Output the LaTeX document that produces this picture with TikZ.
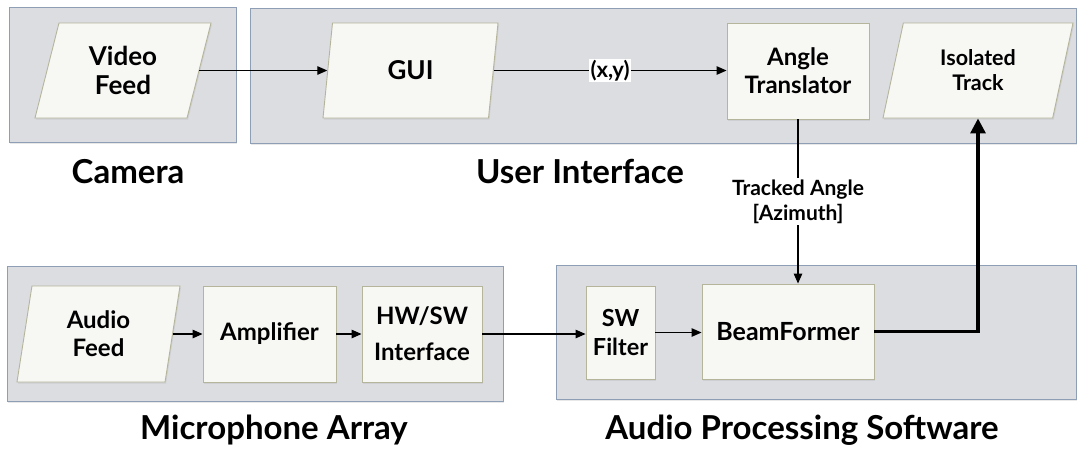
\documentclass[tikz,border=0pt]{standalone}
\usepackage{fontspec}
\setmainfont{Lato}
\usetikzlibrary{arrows.meta,shapes.geometric,shadows,calc}
\definecolor{grpfill}{HTML}{DCDDE1}
\definecolor{grpdraw}{HTML}{8E9FB5}
\definecolor{boxfill}{HTML}{F7F7F4}
\definecolor{boxdraw}{HTML}{B5B59B}
\begin{document}
\begin{tikzpicture}[x=1pt,y=-1pt,
  grp/.style={fill=grpfill,draw=grpdraw,line width=0.9pt,drop shadow={opacity=0.18,shadow xshift=1.2pt,shadow yshift=-1.8pt}},
  blk/.style={fill=boxfill,draw=boxdraw,line width=0.9pt,align=center,inner sep=0pt,drop shadow={opacity=0.15,shadow xshift=1pt,shadow yshift=-1.5pt}},
  proc/.style={blk,rectangle},
  io/.style 2 args={blk,trapezium,trapezium left angle=#1,trapezium right angle=#2,trapezium stretches body=true},
  fs/.style 2 args={font=\fontsize{#1}{#2}\selectfont\bfseries},
  arr/.style={line width=1.2pt,-{Triangle[length=10pt,width=8.5pt]}},
  heavy/.style={line width=3.2pt,-{Triangle[length=15pt,width=15pt]}},
  grplabel/.style={font=\fontsize{33}{38}\selectfont\bfseries,anchor=base},
  lbl/.style={fill=white,inner sep=1.5pt,align=center}
]
\useasboundingbox (0,0) rectangle (1078,451);
% groups
\path[grp] (9,7) rectangle (236,142);
\path[grp] (250,8) rectangle (1076,143);
\path[grp] (7,266) rectangle (503,401);
\path[grp] (556,265) rectangle (1076,399);
% group labels
\node[grplabel] (lcam) at (128,183) {Camera};
\node[grplabel] (lui) at (580,183) {User Interface};
\node[grplabel] (lmic) at (274,439) {Microphone Array};
\node[grplabel] (laps) at (802,439) {Audio Processing Software};
% blocks
\node[io={63.7}{116.3},fs={26}{29},minimum width=176pt,minimum height=95pt] (vf) at (123,70.5) {Video\\Feed};
\node[io={63.7}{116.3},fs={26}{29},minimum width=175pt,minimum height=95pt] (gui) at (410.5,70.5) {GUI};
\node[proc,fs={24}{28},minimum width=142pt,minimum height=96pt] (at) at (798,71) {Angle\\Translator};
\node[io={63.7}{116.3},fs={21.5}{25},minimum width=190pt,minimum height=95pt] (it) at (978,70.5) {Isolated\\Track};
\node[io={72}{108},fs={24}{28},minimum width=163pt,minimum height=96pt] (af) at (98.5,334) {Audio\\Feed};
\node[proc,fs={24}{28},minimum width=133pt,minimum height=96pt] (amp) at (269.5,334) {Amplifier};
\node[proc,fs={24}{36},minimum width=120pt,minimum height=96pt] (hw) at (422,334) {HW/SW\\Interface};
\node[proc,fs={23.5}{29},minimum width=69pt,minimum height=93pt] (swf) at (620.5,332.5) {SW\\Filter};
\node[proc,fs={25}{28},minimum width=172pt,minimum height=95pt] (bf) at (788,331.5) {BeamFormer};
% connectors
\draw[arr] (vf.right side) -- (gui.left side);
\draw[arr] (gui.right side) -- node[lbl,fs={22}{24}] (xy) {(x,y)} (gui.right side -| at.west);
\draw[arr] (at.south) -- node[lbl,fs={21}{25}] (ta) {Tracked Angle\\{[Azimuth]}} (at.south |- bf.north);
\draw[arr] (af.right side) -- (af.right side -| amp.west);
\draw[arr] (amp.east) -- (hw.west);
\draw[arr] (hw.east) -- (hw.east -| swf.west);
\draw[arr] (swf.east) -- (swf.east -| bf.west);
\draw[heavy] (bf.east) -| (it.south);
\end{tikzpicture}
\end{document}
